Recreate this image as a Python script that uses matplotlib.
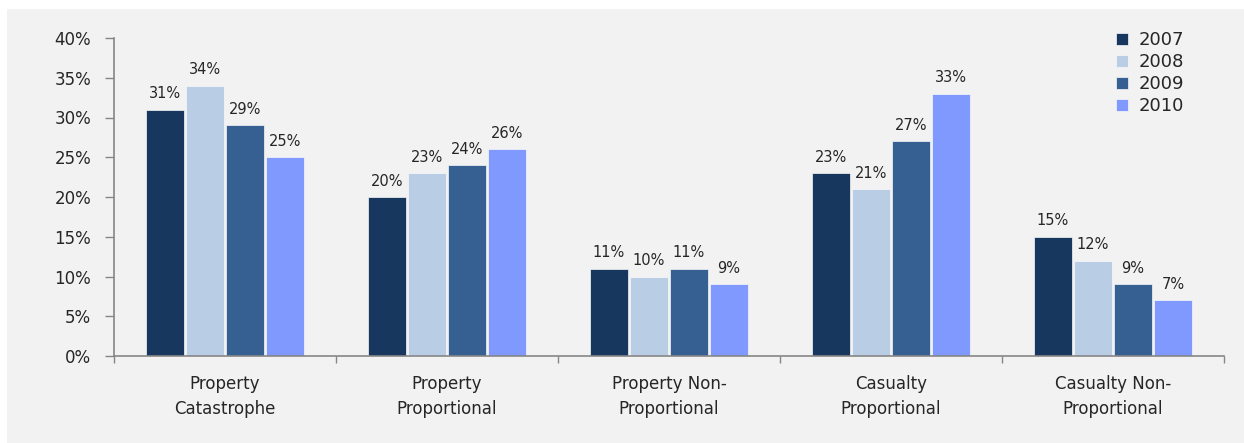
import matplotlib.pyplot as plt
import numpy as np
from matplotlib.patches import Rectangle

plt.rcParams["font.family"] = ["DejaVu Sans"]

# share of premium by line of business, per year (%)
categories = ["Property\nCatastrophe", "Property\nProportional", "Property Non-\nProportional",
              "Casualty\nProportional", "Casualty Non-\nProportional"]
years = ["2007", "2008", "2009", "2010"]
v2007 = [31, 20, 11, 23, 15]
v2008 = [34, 23, 10, 21, 12]
v2009 = [29, 24, 11, 27, 9]
v2010 = [25, 26, 9, 33, 7]
series = [v2007, v2008, v2009, v2010]
colors = ["#17375e", "#b9cde5", "#366092", "#8099ff"]

bg = "#f2f2f2"
txt = "#262626"
axis_grey = "#868686"

fig = plt.figure(figsize=(12.44, 4.43), dpi=100)
fig.patch.set_facecolor("white")
fig.patches.append(Rectangle((7 / 1244, 0), 1, 1 - 9 / 443, transform=fig.transFigure,
                             facecolor=bg, edgecolor="none", zorder=-10))

ax = fig.add_axes([114 / 1244, 1 - 356 / 443, (1224 - 114) / 1244, (356 - 38) / 443])
ax.set_facecolor(bg)

x = np.arange(len(categories))
slot = 0.18
width = 0.171
for i, (vals, col, yr) in enumerate(zip(series, colors, years)):
    pos = x + (i - 1.5) * slot
    bars = ax.bar(pos, vals, width, color=col, edgecolor="#f8f8f8", linewidth=0.5, label=yr)
    for b, v in zip(bars, vals):
        ax.annotate(f"{v}%", (b.get_x() + b.get_width() / 2, v), xytext=(0, 6),
                    textcoords="offset points", ha="center", va="bottom",
                    fontsize=10.5, color=txt)

ax.set_xlim(-0.5, len(categories) - 0.5)
ax.set_ylim(0, 40)
ax.set_yticks(range(0, 41, 5))
ax.set_yticklabels([f"{t}%" for t in range(0, 41, 5)])
ax.tick_params(axis="y", direction="out", length=6.5, width=1, color=axis_grey,
               labelsize=12, labelcolor=txt, pad=10)

ax.set_xticks(x)
ax.set_xticklabels(categories, linespacing=1.5)
ax.set_xticks(np.arange(-0.5, len(categories)), minor=True)
ax.tick_params(axis="x", which="major", length=0, labelsize=12, labelcolor=txt, pad=14)
ax.tick_params(axis="x", which="minor", direction="out", length=5, width=1, color=axis_grey)

for s in ["top", "right"]:
    ax.spines[s].set_visible(False)
for s in ["left", "bottom"]:
    ax.spines[s].set_color(axis_grey)
    ax.spines[s].set_linewidth(1.2)

leg = ax.legend(loc="upper left", bbox_to_anchor=(1116 / 1244, 1 - 31 / 443),
                bbox_transform=fig.transFigure, frameon=False, fontsize=13,
                handlelength=0.65, handleheight=0.65, handletextpad=0.6,
                labelspacing=0.22, borderpad=0, borderaxespad=0)
for t in leg.get_texts():
    t.set_color(txt)

fig.savefig("out.png", dpi=100, facecolor=fig.get_facecolor())
